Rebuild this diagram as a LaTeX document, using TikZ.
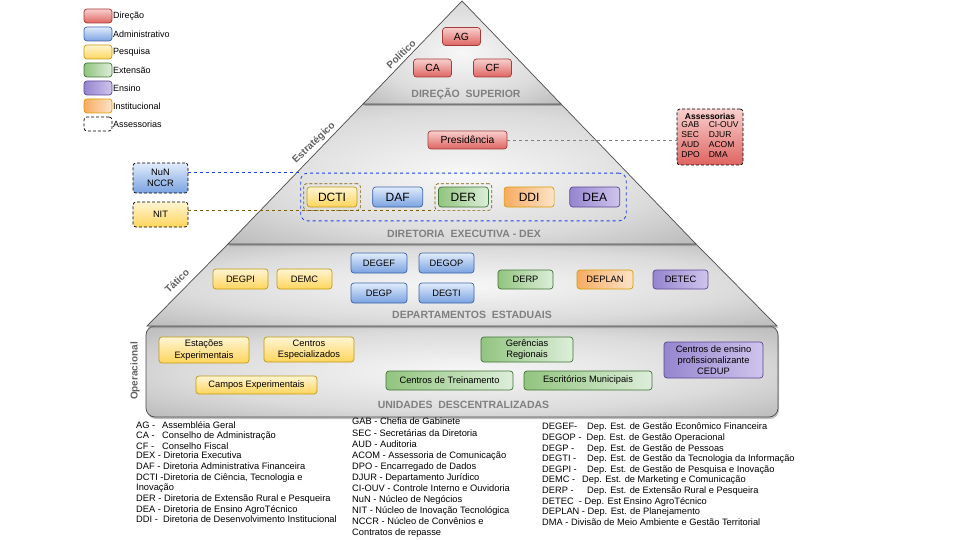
\documentclass[tikz,border=0pt]{standalone}
\usepackage{fontspec}
\setmainfont{Liberation Sans}
\usetikzlibrary{positioning,fit,shadows}

\definecolor{dirlinha}{HTML}{A33B3B}
\definecolor{dirtopo}{HTML}{F8D0CE}
\definecolor{dirbase}{HTML}{DE6461}
\definecolor{admlinha}{HTML}{3D64A8}
\definecolor{admtopo}{HTML}{E1ECFC}
\definecolor{admbase}{HTML}{7AA2E0}
\definecolor{peslinha}{HTML}{C29A12}
\definecolor{pestopo}{HTML}{FFF5D3}
\definecolor{pesbase}{HTML}{FFD55C}
\definecolor{extlinha}{HTML}{3F7334}
\definecolor{extescuro}{HTML}{92C47F}
\definecolor{extclaro}{HTML}{DDEEDA}
\definecolor{enslinha}{HTML}{5B4594}
\definecolor{ensescuro}{HTML}{9585CF}
\definecolor{ensclaro}{HTML}{CFC5EC}
\definecolor{inslinha}{HTML}{D79B00}
\definecolor{insescuro}{HTML}{F6AC62}
\definecolor{insclaro}{HTML}{FDE3C8}
\definecolor{grupolinha}{HTML}{7F6000}
\definecolor{dexlinha}{HTML}{1F3FF0}

\pgfdeclareradialshading{camadashade}{\pgfpoint{0bp}{0bp}}{color(0bp)=(black!3); color(22bp)=(black!14); color(45bp)=(black!36); color(70bp)=(black!46)}

\tikzset{
	caixa/.style={draw, rounded corners=3pt, line width=0.7pt, inner sep=1pt, align=center, font=\fontsize{9.3}{11.5}\selectfont, minimum width=55pt, minimum height=20pt},
	direcao/.style={caixa, draw=dirlinha, top color=dirtopo, bottom color=dirbase},
	admin/.style={caixa, draw=admlinha, top color=admtopo, bottom color=admbase},
	pesquisa/.style={caixa, draw=peslinha, top color=pestopo, bottom color=pesbase},
	extensao/.style={caixa, draw=extlinha, left color=extescuro, right color=extclaro},
	ensino/.style={caixa, draw=enslinha, left color=ensescuro, right color=ensclaro},
	institucional/.style={caixa, draw=inslinha, left color=insescuro, right color=insclaro},
	assessoria/.style={caixa, draw=black, dash pattern=on 3pt off 2pt},
	conselho/.style={minimum width=38pt, minimum height=18pt, font=\fontsize{10.4}{12}\selectfont},
	diretoria/.style={minimum width=50pt, minimum height=20pt, font=\fontsize{12}{14}\selectfont},
	legenda/.style={minimum width=28pt, minimum height=14pt},
	grupo/.style={draw=grupolinha, dash pattern=on 3pt off 2pt, rounded corners=3pt, line width=0.7pt, inner sep=3pt},
	grupodex/.style={draw=dexlinha, dash pattern=on 3pt off 3pt, rounded corners=7pt, line width=0.8pt, inner xsep=6pt, inner ysep=13.5pt},
	ligacao/.style={dash pattern=on 3pt off 3pt, line width=0.8pt},
	camada/.style={draw=black!70, line width=0.7pt, shading=camadashade, shade, drop shadow={shadow xshift=1pt, shadow yshift=-2pt, opacity=0.5}},
	nivel/.style={font=\bfseries\fontsize{10}{11}\selectfont, text=black!62, inner sep=0pt},
	titulo/.style={font=\bfseries\fontsize{10.5}{12}\selectfont, text=black!50},
	siglas/.style={anchor=north west, inner sep=0pt, align=left}
}

\begin{document}
\begin{tikzpicture}[x=1pt, y=-1pt]
	\useasboundingbox (0,0) rectangle (960,540);
	\path[camada, rounded corners=9pt] (146,326) rectangle (778,417);
	\path[camada] (228,244) -- (147,326) -- (777,326) -- (696,244) -- cycle;
	\path[camada] (363,104) -- (228,244) -- (696,244) -- (561,104) -- cycle;
	\path[camada] (462,1) -- (363,104) -- (561,104) -- cycle;

	\node[nivel, rotate=44] (politico) at (401,54) {Político};
	\node[nivel, rotate=44] (estrategico) at (314,143) {Estratégico};
	\node[nivel, rotate=44] (tatico) at (177,281) {Tático};
	\node[nivel, rotate=90] (operacional) at (135,371) {Operacional};

	\node[titulo] (tsuperior) at (466,94) {DIREÇÃO~~SUPERIOR};
	\node[titulo] (tdex) at (464,234) {DIRETORIA~~EXECUTIVA - DEX};
	\node[titulo] (testaduais) at (472,315) {DEPARTAMENTOS~~ESTADUAIS};
	\node[titulo] (tunidades) at (463.5,405) {UNIDADES~~DESCENTRALIZADAS};

	\node[direcao, conselho] (ag) at (461.5,36.5) {AG};
	\node[direcao, conselho] (ca) at (432.5,68) {CA};
	\node[direcao, conselho] (cf) at (492.5,68) {CF};
	\node[direcao, minimum width=79pt, minimum height=18pt, font=\fontsize{10.3}{12}\selectfont] (pres) at (467.5,140) {Presidência};

	\node[pesquisa, diretoria] (dcti) at (332,197) {DCTI};
	\node[admin, diretoria, right=15pt of dcti] (daf) {DAF};
	\node[extensao, diretoria, right=15pt of daf] (der) {DER};
	\node[institucional, diretoria, right=15pt of der] (ddi) {DDI};
	\node[ensino, diretoria, right=15pt of ddi] (dea) {DEA};
	\node[grupo, fit=(dcti)] (dctigrupo) {};
	\node[grupo, fit=(der)] (dergrupo) {};
	\node[grupodex, fit=(dcti)(dea)] (dex) {};

	\node[admin, assessoria, minimum height=30pt] (nun) at (160.5,178) {NuN\\NCCR};
	\node[pesquisa, assessoria, minimum height=25pt] (nit) at (160.5,214.5) {NIT};
	\node[direcao, assessoria, minimum width=66pt, minimum height=56pt, inner sep=0pt, font=\fontsize{8.5}{10}\selectfont] (assess) at (710,137) {\textbf{Assessorias}\\\begin{tabular}{@{}l@{\hspace{9pt}}l@{}}GAB & CI-OUV\\SEC & DJUR\\AUD & ACOM\\DPO & DMA\end{tabular}};

	\draw[ligacao, draw=black!50] (pres.east) -- (pres.east -| assess.west);
	\draw[ligacao, draw=dexlinha] (nun.east |- dex.north) -- (dex.north west);
	\draw[ligacao, draw=grupolinha] (nit.east |- dergrupo.south) -- (dergrupo.south west);

	\node[pesquisa] (degpi) at (240.5,279) {DEGPI};
	\node[pesquisa] (demc) at (304.5,279) {DEMC};
	\node[admin, minimum width=56pt] (degef) at (379,263) {DEGEF};
	\node[admin] (degop) at (446.5,263) {DEGOP};
	\node[admin, minimum width=56pt] (degp) at (379,293) {DEGP};
	\node[admin] (degti) at (446.5,293) {DEGTI};
	\node[extensao, minimum height=19pt] (derp) at (525.5,279.5) {DERP};
	\node[institucional, minimum width=56pt, minimum height=19pt] (deplan) at (605,279.5) {DEPLAN};
	\node[ensino, minimum height=19pt] (detec) at (680.5,279.5) {DETEC};

	\node[pesquisa, minimum width=90pt, minimum height=26pt] (estacoes) at (204,350) {Estações\\Experimentais};
	\node[pesquisa, minimum width=90pt, minimum height=25pt] (centrosesp) at (309,349.5) {Centros\\Especializados};
	\node[pesquisa, minimum width=121pt, minimum height=18pt] (campos) at (256.5,385) {Campos Experimentais};
	\node[extensao, minimum width=92pt, minimum height=25pt] (gerencias) at (527,349.5) {Gerências\\Regionais};
	\node[extensao, minimum width=127pt, minimum height=19pt] (treinamento) at (449.5,380.5) {Centros de Treinamento};
	\node[extensao, minimum width=128pt, minimum height=19pt] (escritorios) at (588,380.5) {Escritórios Municipais};
	\node[ensino, minimum width=99pt, minimum height=36pt, font=\fontsize{9.3}{11}\selectfont] (cedup) at (713.5,360) {Centros de ensino\\profissionalizante\\CEDUP};

	\foreach \estilo/\rotulo [count=\i] in {direcao/Direção, admin/Administrativo, pesquisa/Pesquisa, extensao/Extensão, ensino/Ensino, institucional/Institucional, assessoria/Assessorias} {
		\node[\estilo, legenda] (leg\i) at (98,{18*\i-2}) {};
		\node[right=0.5pt of leg\i, inner sep=0pt, font=\fontsize{9}{10}\selectfont] (legtxt\i) {\rotulo};
	}

	\node[siglas, font=\fontsize{9.3}{10.7}\selectfont] (siglas1) at (136,421) {\makebox[26pt][l]{AG -}Assembléia Geral\\\makebox[26pt][l]{CA -}Conselho de Administração\\\makebox[26pt][l]{CF -}Conselho Fiscal\\[-1.5pt]DEX - Diretoria Executiva\\DAF - Diretoria Administrativa Financeira\\DCTI -Diretoria de Ciência, Tecnologia e\\Inovação\\DER - Diretoria de Extensão Rural e Pesqueira\\DEA - Diretoria de Ensino AgroTécnico\\DDI -\ \ Diretoria de Desenvolvimento Institucional};
	\node[siglas, font=\fontsize{9.3}{11.1}\selectfont] (siglas2) at (352,418) {GAB - Chefia de Gabinete\\SEC - Secretárias da Diretoria\\AUD - Auditoria\\ACOM - Assessoria de Comunicação\\DPO - Encarregado de Dados\\DJUR - Departamento Jurídico\\CI-OUV - Controle Interno e Ouvidoria\\NuN - Núcleo de Negócios\\NIT - Núcleo de Inovação Tecnológica\\NCCR - Núcleo de Convênios e\\Contratos de repasse};
	\node[siglas, font=\fontsize{9.3}{10.6}\selectfont] (siglas3) at (542,423) {\makebox[45pt][l]{DEGEF-}Dep. Est. de Gestão Econômico Financeira\\DEGOP -\ \ Dep. Est. de Gestão Operacional\\\makebox[45pt][l]{DEGP -}Dep. Est. de Gestão de Pessoas\\\makebox[45pt][l]{DEGTI -}Dep. Est. de Gestão da Tecnologia da Informação\\\makebox[45pt][l]{DEGPI -}Dep. Est. de Gestão de Pesquisa e Inovação\\\makebox[40pt][l]{DEMC -}Dep. Est. de Marketing e Comunicação\\\makebox[45pt][l]{DERP -}Dep. Est. de Extensão Rural e Pesqueira\\DETEC\ \ - Dep. Est Ensino AgroTécnico\\DEPLAN - Dep. Est. de Planejamento\\DMA - Divisão de Meio Ambiente e Gestão Territorial};
\end{tikzpicture}
\end{document}
